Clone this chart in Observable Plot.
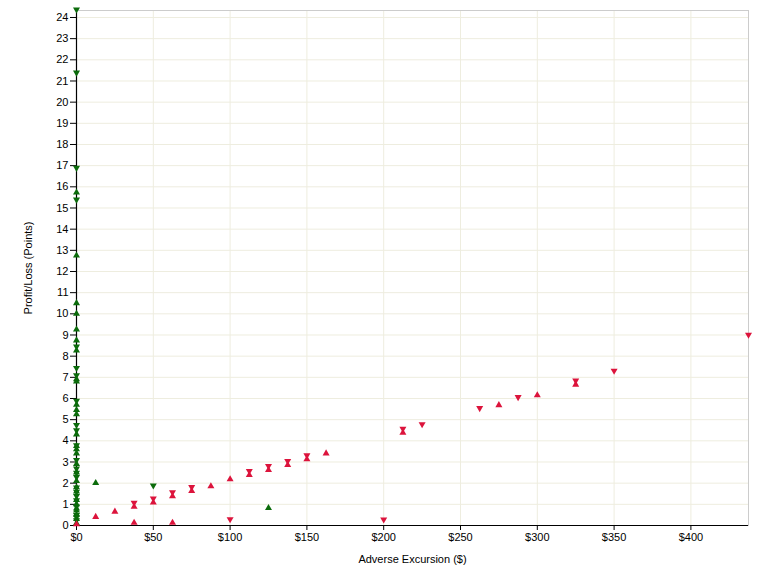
<!DOCTYPE html>
<html><head><meta charset="utf-8">
<script src="https://cdn.jsdelivr.net/npm/d3@7"></script>
<script src="https://cdn.jsdelivr.net/npm/@observablehq/plot@0.6"></script>
<style>body{margin:0;background:#fff;} #chart svg{display:block}</style>
</head><body><div id="chart"></div>
<script>
// Tick values
const xTicks = [0, 50, 100, 150, 200, 250, 300, 350, 400];
const yTicks = [0,1,2,3,4,5,6,7,8,9,10,11,12,13,14,15,16,17,18,19,20,21,22,23,24];
const xMax = 437.5;
const yMax = 24.33;

// Green, upward triangles
const greenUpX = [0,0,0,0,0,0,0,0,0,0,0,0,0,0,0,0,0,0,0,0,0,0,0,0,0,0,0,0, 12.5, 125];
const greenUpY = [15.83,12.85,10.6,10.1,9.35,8.84,8.36,7.0,6.9,5.8,5.55,5.35,4.4,3.85,3.7,3.5,3.0,2.6,2.2,1.9,1.7,1.3,1.1,0.9,0.8,0.6,0.4,0.2, 2.1, 0.92];
// Green, downward triangles
const greenDownX = [0,0,0,0,0,0,0,0,0,0,0,0,0,0,0,0,0,0,0,0,0,0,0, 50];
const greenDownY = [24.28,21.3,16.8,15.3,8.36,7.35,7.0,5.8,4.65,4.4,3.7,3.0,2.6,2.4,2.2,1.7,1.5,1.3,1.1,0.8,0.4,0.3,0.15, 1.8];
// Red, upward triangles
const redUpX = [0,12.5,25,37.5,37.5,50,62.5,62.5,75,87.5,100,112.5,125,137.5,150,162.5,212.5,275,300,325];
const redUpY = [0.15,0.5,0.75,0.22,0.98,1.18,1.48,0.22,1.72,1.95,2.28,2.48,2.72,2.95,3.22,3.5,4.48,5.78,6.25,6.75];
// Red, downward triangles
const redDownX = [37.5,50,62.5,75,100,112.5,125,137.5,150,200,212.5,225,262.5,287.5,325,350,437.5];
const redDownY = [0.98,1.18,1.48,1.72,0.2,2.48,2.72,2.95,3.22,0.19,4.48,4.69,5.45,5.97,6.75,7.22,8.92];

const GREEN = "#0b6b0b";
const RED = "#dc143c";

const rows = (xs, ys) => xs.map((x, i) => ({x, y: ys[i]}));

const downTriangle = {
  draw(context, size) {
    const y = -Math.sqrt(size / (Math.sqrt(3) * 3));
    context.moveTo(0, -y * 2);
    context.lineTo(-Math.sqrt(3) * y, y);
    context.lineTo(Math.sqrt(3) * y, y);
    context.closePath();
  }
};

const R = 2.6;
const chart = Plot.plot({
  width: 764,
  height: 575,
  marginLeft: 76,
  marginRight: 16,
  marginTop: 10,
  marginBottom: 50,
  style: {fontFamily: "'Liberation Sans', Arial, sans-serif", fontSize: "11px", color: "#000", background: "#fff"},
  x: {domain: [0, xMax]},
  y: {domain: [0, yMax]},
  marks: [
    Plot.gridX(xTicks, {stroke: "#eeeddf", strokeOpacity: 1}),
    Plot.gridY(yTicks, {stroke: "#eeeddf", strokeOpacity: 1}),
    Plot.frame({stroke: "#cccccc"}),
    Plot.ruleX([0], {stroke: "#000", strokeWidth: 1.2}),
    Plot.ruleY([0], {stroke: "#000", strokeWidth: 1.2}),
    Plot.axisX(xTicks, {tickFormat: d => "$" + d, tickSize: 5, tickPadding: 3,
      label: "Adverse Excursion ($)", labelAnchor: "center", labelArrow: "none", labelOffset: 37}),
    Plot.axisY(yTicks, {tickFormat: d => String(d), tickSize: 6, tickPadding: 2,
      label: "Profit/Loss (Points)", labelAnchor: "center", labelArrow: "none", labelOffset: 52}),
    Plot.dot(rows(greenUpX, greenUpY), {x: "x", y: "y", symbol: "triangle", r: R, fill: GREEN, dy: 2}),
    Plot.dot(rows(greenDownX, greenDownY), {x: "x", y: "y", symbol: downTriangle, r: R, fill: GREEN, dy: -2}),
    Plot.dot(rows(redUpX, redUpY), {x: "x", y: "y", symbol: "triangle", r: R, fill: RED, dy: 2}),
    Plot.dot(rows(redDownX, redDownY), {x: "x", y: "y", symbol: downTriangle, r: R, fill: RED, dy: -2})
  ]
});
document.getElementById("chart").appendChild(chart);
</script>
</body></html>
